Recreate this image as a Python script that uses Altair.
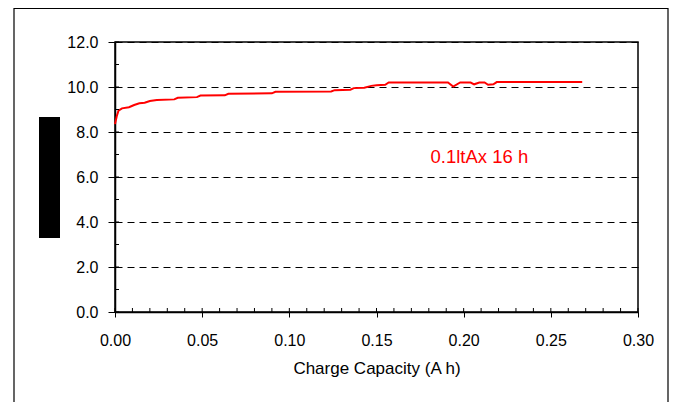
import altair as alt
import pandas as pd

# Charge curve (capacity Ah, voltage)
cap = [0.000, 0.001, 0.002, 0.004, 0.008, 0.011, 0.014, 0.017, 0.020, 0.024,
       0.034, 0.036, 0.047, 0.049, 0.063, 0.065, 0.090, 0.092, 0.124, 0.126,
       0.135, 0.137, 0.143, 0.147, 0.150, 0.155, 0.157, 0.191, 0.194, 0.198,
       0.204, 0.206, 0.209, 0.212, 0.214, 0.217, 0.219, 0.268]
volt = [8.35, 8.70, 8.95, 9.05, 9.10, 9.20, 9.28, 9.30, 9.38, 9.42,
        9.45, 9.52, 9.55, 9.62, 9.63, 9.70, 9.72, 9.79, 9.80, 9.86,
        9.88, 9.95, 9.97, 10.05, 10.08, 10.10, 10.20, 10.20, 10.02, 10.20,
        10.20, 10.12, 10.20, 10.20, 10.10, 10.12, 10.22, 10.22]

annot_text = ["0.1ltAx 16 h"]
annot_x = [0.181]
annot_y = [6.9]

x_ticks = [0.00, 0.05, 0.10, 0.15, 0.20, 0.25, 0.30]
y_ticks = [0, 2, 4, 6, 8, 10, 12]
x_minor = [round(i * 0.01, 2) for i in range(0, 31)]
y_minor = list(range(0, 13))

W, H = 523, 270
FONT = "Liberation Sans"

xs = alt.Scale(domain=[0, 0.30], nice=False, zero=False)
ys = alt.Scale(domain=[0, 12], nice=False, zero=False)
xaxis = alt.Axis(
    title="Charge Capacity (A h)", values=x_ticks, format=".2f", grid=False,
    tickSize=5, labelPadding=15, titlePadding=12, labelFontSize=16, labelFlush=False,
    titleFontSize=17, titleFontWeight="normal")
yaxis = alt.Axis(
    title=None, values=y_ticks, format=".1f", grid=True, labelFlush=False,
    gridDash=[7, 5], gridColor="black", gridWidth=1, gridOpacity=1,
    tickSize=7, labelPadding=10, labelFontSize=16)


def X():
    return alt.X("x:Q", scale=xs, axis=xaxis)


def Y():
    return alt.Y("y:Q", scale=ys, axis=yaxis)


line_df = pd.DataFrame({"x": cap, "y": volt})
line = alt.Chart(line_df).mark_line(color="#ff0000", strokeWidth=2, interpolate="linear").encode(
    x=X(), y=Y())

text = alt.Chart(pd.DataFrame({"x": annot_x, "y": annot_y, "t": annot_text})).mark_text(
    color="#ff0000", font=FONT, fontSize=18.5, align="left", baseline="middle"
).encode(x=X(), y=Y(), text="t:N")

xminor = alt.Chart(pd.DataFrame({"x": x_minor})).mark_rule(color="black", strokeWidth=1).encode(
    x=X(), y=alt.value(H), y2=alt.value(H - 4))
yminor = alt.Chart(pd.DataFrame({"y": y_minor})).mark_rule(color="black", strokeWidth=1).encode(
    y=Y(), x=alt.value(0), x2=alt.value(4))

one = alt.Data(values=[{}])
frame = alt.Chart(one).mark_rect(fill=None, stroke="black", strokeWidth=1.2).encode(
    x=alt.value(-101), x2=alt.value(553), y=alt.value(-33.5), y2=alt.value(420))
redact = alt.Chart(one).mark_rect(color="black").encode(
    x=alt.value(-76), x2=alt.value(-55), y=alt.value(75), y2=alt.value(196))

chart = alt.layer(line, text, xminor, yminor, frame, redact).properties(
    width=W, height=H,
    background="white",
    autosize=alt.AutoSizeParams(type="none"),
    padding={"left": 107, "top": 34, "right": 31, "bottom": 90},
).configure_view(stroke="black", strokeWidth=1.5).configure_axis(
    domainColor="black", domainWidth=1.5, tickColor="black", tickWidth=1,
    labelColor="black", titleColor="black", labelFont=FONT, titleFont=FONT,
)

chart.save("out.html", embed_options={"renderer": "svg", "actions": False})
